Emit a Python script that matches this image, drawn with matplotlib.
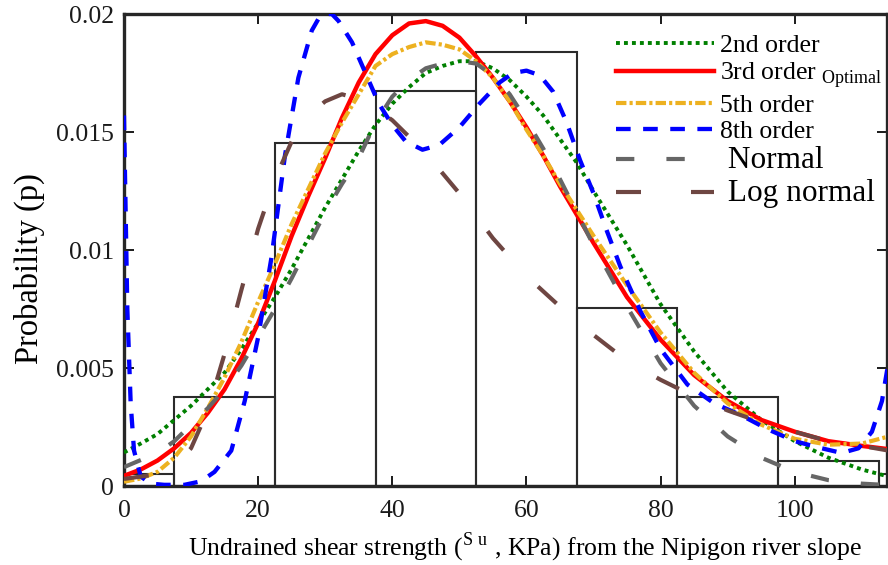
import matplotlib
matplotlib.use('Agg')
import matplotlib.pyplot as plt

plt.rcParams['font.family'] = 'Liberation Serif'
plt.rcParams['mathtext.fontset'] = 'custom'
plt.rcParams['mathtext.rm'] = 'Liberation Serif'

# histogram of measured Su (density, bin width 15 kPa)
bin_centers = [0, 15, 30, 45, 60, 75, 90, 105, 120]
bin_density = [0.00052, 0.00377, 0.01455, 0.01674, 0.01837, 0.00753, 0.00377, 0.00106, 0.00052]
bin_width = 15

# fitted curves
su_grid = [0, 2.5, 5, 7.5, 10, 12.5, 15, 17.5, 20, 22.5, 25, 27.5, 30, 32.5, 35, 37.5,
           40, 42.5, 45, 47.5, 50, 52.5, 55, 57.5, 60, 62.5, 65, 67.5, 70, 75, 80, 85,
           90, 95, 100, 105, 110, 114]
p_2nd = [0.00142, 0.0018, 0.0022, 0.0028, 0.0034, 0.0041, 0.0048, 0.0058, 0.0069, 0.0080,
         0.0092, 0.0105, 0.0118, 0.0130, 0.0142, 0.0153, 0.0162, 0.0169, 0.0175, 0.0178,
         0.0180, 0.0180, 0.0177, 0.0172, 0.0165, 0.0157, 0.0147, 0.0137, 0.0125, 0.0102,
         0.0077, 0.0057, 0.0040, 0.0028, 0.0019, 0.0012, 0.0007, 0.0004]
p_3rd = [0.00043, 0.0007, 0.00108, 0.0016, 0.00225, 0.0031, 0.0041, 0.0054, 0.0069, 0.0087,
         0.0106, 0.0123, 0.0139, 0.0156, 0.0171, 0.0183, 0.0191, 0.0196, 0.0197, 0.0195,
         0.0190, 0.0182, 0.0173, 0.0163, 0.0152, 0.0140, 0.0127, 0.0115, 0.0103, 0.0080,
         0.0062, 0.0047, 0.0036, 0.0028, 0.0023, 0.0019, 0.0017, 0.00156]
p_5th = [0.00018, 0.00032, 0.0006, 0.0012, 0.0021, 0.0033, 0.0046, 0.0061, 0.0078, 0.0094,
         0.0111, 0.0126, 0.0141, 0.0154, 0.0166, 0.0178, 0.0183, 0.0186, 0.0188, 0.0187,
         0.0185, 0.0180, 0.0173, 0.0163, 0.0151, 0.0140, 0.0128, 0.0117, 0.0106, 0.0085,
         0.0065, 0.0048, 0.0035, 0.0026, 0.0020, 0.00175, 0.0018, 0.0021]
p_normal = [0.0008, 0.0011, 0.0014, 0.0019, 0.0026, 0.0033, 0.0041, 0.0051, 0.0063, 0.0075,
            0.0088, 0.0102, 0.0116, 0.0128, 0.0139, 0.0154, 0.0165, 0.0172, 0.0177, 0.0179,
            0.0180, 0.0179, 0.0174, 0.0166, 0.0155, 0.0143, 0.0130, 0.0116, 0.0102, 0.0076,
            0.0052, 0.0034, 0.0021, 0.0012, 0.0006, 0.00025, 0.0001, 0.00004]

su_8th = [0, 0.5, 1, 1.5, 2.5, 4, 6, 9, 11.5, 13.5, 16, 18, 20, 22, 24, 26, 28, 29, 30, 31,
          32, 34, 36, 38, 40, 42, 44.5, 47, 50, 53, 56, 58, 60, 62, 64, 66, 68, 70, 72, 74,
          77, 80, 84, 88, 92, 96, 100, 104, 107, 109.5, 111.5, 113, 114]
p_8th = [0.0157, 0.0075, 0.0035, 0.0015, 0.0004, 0.0001, 0.00005, 0.00005, 0.0002, 0.0006,
         0.0015, 0.0036, 0.0063, 0.0097, 0.0140, 0.0173, 0.0193, 0.0198, 0.0200, 0.0200,
         0.0197, 0.0188, 0.0175, 0.0162, 0.0153, 0.0146, 0.01425, 0.01445, 0.0152, 0.0162,
         0.0171, 0.0175, 0.0176, 0.0174, 0.0167, 0.0154, 0.0138, 0.0124, 0.0108, 0.0093,
         0.0074, 0.0058, 0.0043, 0.0035, 0.0030, 0.0024, 0.0019, 0.0016, 0.0014, 0.0016,
         0.0023, 0.0036, 0.0053]

su_logn = [0, 5, 8, 10, 12.5, 15, 17.5, 20, 22.5, 25, 27.5, 30, 32.5, 35, 37.5, 40, 45, 50,
           55, 60, 65, 70, 75, 80, 85, 90, 95, 100, 105, 110, 114]
p_logn = [0.0003, 0.0005, 0.0010, 0.0016, 0.0032, 0.0056, 0.0083, 0.0109, 0.0130, 0.0146,
          0.0157, 0.0163, 0.0166, 0.0164, 0.0160, 0.0155, 0.0141, 0.0124, 0.0105, 0.0089,
          0.0076, 0.0064, 0.0053, 0.0045, 0.0038, 0.0032, 0.0027, 0.0023, 0.0019, 0.0017, 0.0015]

x_ticks = [0, 20, 40, 60, 80, 100]
y_ticks = [0, 0.005, 0.01, 0.015, 0.02]
y_tick_labels = ['0', '0.005', '0.01', '0.015', '0.02']

fig, ax = plt.subplots(figsize=(8.88, 5.65), dpi=100, facecolor='white')
fig.subplots_adjust(left=0.1396, right=0.9985, bottom=0.1398, top=0.9752)

ax.bar(bin_centers, bin_density, width=bin_width, facecolor='none',
       edgecolor='#2b2b2b', linewidth=1.5, zorder=1)

ax.plot(su_grid, p_2nd, color='#008000', linewidth=2.8, linestyle=(0, (1.0, 1.05)),
        label='2nd order', zorder=3)
ax.plot(su_grid, p_3rd, color='#ff0000', linewidth=3.2, linestyle='-',
        label=r'3rd order $_{\mathrm{Optimal}}$', zorder=3)
ax.plot(su_grid, p_5th, color='#edb120', linewidth=3.0, linestyle=(0, (2.5, 0.75, 0.75, 0.75)),
        label='5th order', zorder=3)
ax.plot(su_8th, p_8th, color='#0000ff', linewidth=3.1, linestyle=(0, (3.4, 2.9)),
        label='8th order', zorder=3)
ax.plot(su_grid, p_normal, color='#666666', linewidth=3.0, linestyle=(0, (4.4, 7.7)),
        label=' Normal', zorder=3)
ax.plot(su_logn, p_logn, color='#6e4642', linewidth=3.0, linestyle=(0, (6.0, 12.0)),
        label=' Log normal', zorder=3)

ax.set_xlim(0, 113.7)
ax.set_ylim(0, 0.02)
ax.set_xticks(x_ticks)
ax.set_yticks(y_ticks)
ax.set_yticklabels(y_tick_labels)
ax.tick_params(direction='in', length=7, width=1.4, labelsize=18.5, colors='#1a1a1a',
               top=True, right=True)
ax.tick_params(axis='x', pad=10)
ax.tick_params(axis='y', pad=7)
for spine in ax.spines.values():
    spine.set_linewidth(2.4)
    spine.set_color('#262626')

ax.set_ylabel('Probability (p)', fontsize=23.5)
ax.yaxis.set_label_coords(-0.103, 0.46)
ax.set_xlabel(r'Undrained shear strength ($^{\mathrm{S\ u}}$ , KPa) from the Nipigon river slope',
              fontsize=18.5)
ax.xaxis.set_label_coords(0.5256, -0.095)

leg = ax.legend(loc='upper right', bbox_to_anchor=(1.0, 0.966), frameon=False,
                fontsize=18.5, handlelength=3.8, handletextpad=0.25, labelspacing=0.13,
                borderaxespad=0, borderpad=0.15)
for txt in leg.get_texts()[4:]:
    txt.set_fontsize(22.5)

fig.savefig('out.png', dpi=100, facecolor='white')
plt.close(fig)
